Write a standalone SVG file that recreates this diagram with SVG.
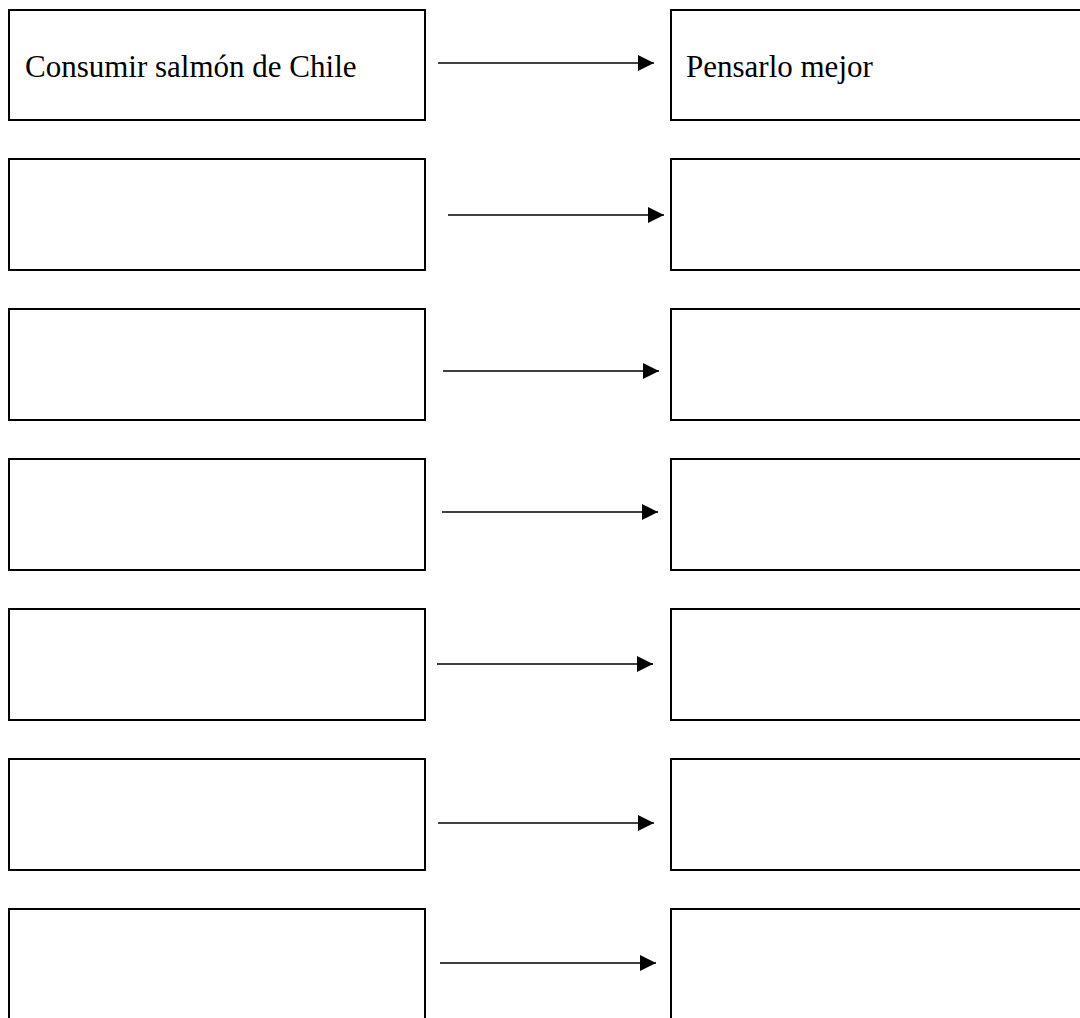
<svg xmlns="http://www.w3.org/2000/svg" width="1080" height="1018" viewBox="0 0 1080 1018">
<style>
.box{fill:#fff;stroke:#000;stroke-width:2}
.lbl{font-family:"Liberation Serif","Times New Roman",serif;font-size:31px;fill:#000}
.arr{stroke:#000;stroke-width:1.3;fill:none;marker-end:url(#ah)}
</style>
<defs>
<marker id="ah" markerUnits="userSpaceOnUse" markerWidth="16" markerHeight="16" refX="16" refY="8" orient="auto"><path d="M0,0 L16,8 L0,16 z" fill="#000"/></marker>
</defs>
<rect width="1080" height="1018" fill="#fff"/>
<g id="l1"><rect class="box" x="9" y="10" width="416" height="110"/><text class="lbl" x="25" y="77">Consumir salmón de Chile</text></g>
<g id="r1"><rect class="box" x="671" y="10" width="420" height="110"/><text class="lbl" x="686" y="77">Pensarlo mejor</text></g>
<g id="l2"><rect class="box" x="9" y="159" width="416" height="111"/></g>
<g id="r2"><rect class="box" x="671" y="159" width="420" height="111"/></g>
<g id="l3"><rect class="box" x="9" y="309" width="416" height="111"/></g>
<g id="r3"><rect class="box" x="671" y="309" width="420" height="111"/></g>
<g id="l4"><rect class="box" x="9" y="459" width="416" height="111"/></g>
<g id="r4"><rect class="box" x="671" y="459" width="420" height="111"/></g>
<g id="l5"><rect class="box" x="9" y="609" width="416" height="111"/></g>
<g id="r5"><rect class="box" x="671" y="609" width="420" height="111"/></g>
<g id="l6"><rect class="box" x="9" y="759" width="416" height="111"/></g>
<g id="r6"><rect class="box" x="671" y="759" width="420" height="111"/></g>
<g id="l7"><rect class="box" x="9" y="909" width="416" height="120"/></g>
<g id="r7"><rect class="box" x="671" y="909" width="420" height="120"/></g>
<g id="connectors">
<line class="arr" x1="438" y1="63" x2="654" y2="63"/>
<line class="arr" x1="448" y1="215" x2="664" y2="215"/>
<line class="arr" x1="443" y1="371" x2="659" y2="371"/>
<line class="arr" x1="442" y1="512" x2="658" y2="512"/>
<line class="arr" x1="437" y1="664" x2="653" y2="664"/>
<line class="arr" x1="438" y1="823" x2="654" y2="823"/>
<line class="arr" x1="440" y1="963" x2="656" y2="963"/>
</g>
</svg>
